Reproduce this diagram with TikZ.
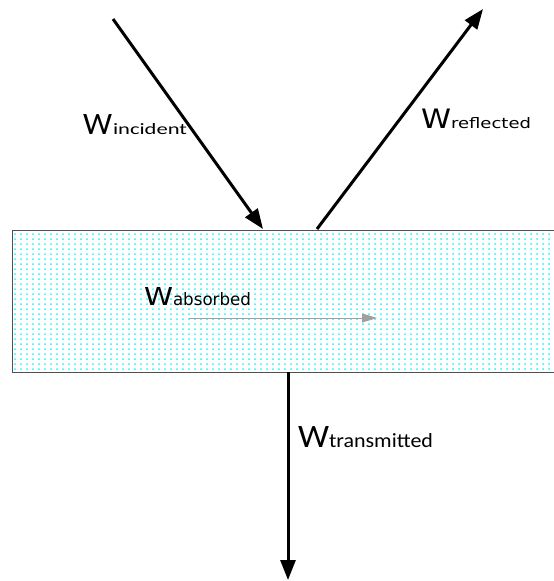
\documentclass[tikz,border=0pt]{standalone}
\usepackage{fontspec}
\setmainfont{Carlito}
\newfontfamily\vfont{DejaVu Sans}
\usetikzlibrary{arrows.meta}
\definecolor{dotcyan}{HTML}{20F2F8}
\definecolor{slabedge}{HTML}{505050}
\definecolor{absgray}{HTML}{A0A0A0}
\tikzset{
  beam/.style={line width=3pt, -{Triangle[length=20pt,width=15pt]}},
  absbeam/.style={line width=0.9pt, absgray, -{Triangle[length=15pt,width=9pt]}},
  lbl/.style={inner sep=0pt, outer sep=0pt, anchor=base west},
  slab/.style={draw=slabedge, line width=0.9pt}
}
\begin{document}
\begin{tikzpicture}[x=1pt,y=-1pt]
\useasboundingbox (0,0) rectangle (554,581);
% slab with dot pattern
\begin{scope}
\clip (12,230) rectangle (554,372);
\foreach \yy [count=\r] in {234,239,...,370}{
  \foreach \xx in {15,21,...,554}{
    \fill[dotcyan] (\xx,\yy) circle (1pt);
  }
}
\end{scope}
\draw[slab] (12,230) rectangle (560,372);
% named points
\coordinate (incStart) at (113,19);
\coordinate (incEnd) at (263,229);
\coordinate (refStart) at (317,229);
\coordinate (refEnd) at (483,9);
\coordinate (trStart) at (288,372);
\coordinate (trEnd) at (288,580);
\coordinate (abStart) at (189,318);
\coordinate (abEnd) at (377,318);
% beams
\draw[beam] (incStart) -- (incEnd);
\draw[beam] (refStart) -- (refEnd);
\draw[beam] (trStart) -- (trEnd);
\draw[absbeam] (abStart) -- (abEnd);
% labels
\node[lbl] (lInc) at (83,134) {\resizebox{29pt}{20pt}{W}\hspace{1pt}\resizebox{74pt}{11pt}{incident}};
\node[lbl] (lRef) at (421,128) {\vfont\resizebox{30pt}{19.5pt}{W}\resizebox{80pt}{11pt}{reflected}};
\node[lbl] (lAbs) at (144,305) {\vfont\resizebox{29pt}{18pt}{W}\resizebox{78pt}{13pt}{absorbed}};
\node[lbl] (lTr) at (298,447) {\resizebox{31pt}{21pt}{W}\resizebox{104pt}{14pt}{transmitted}};
\end{tikzpicture}
\end{document}
